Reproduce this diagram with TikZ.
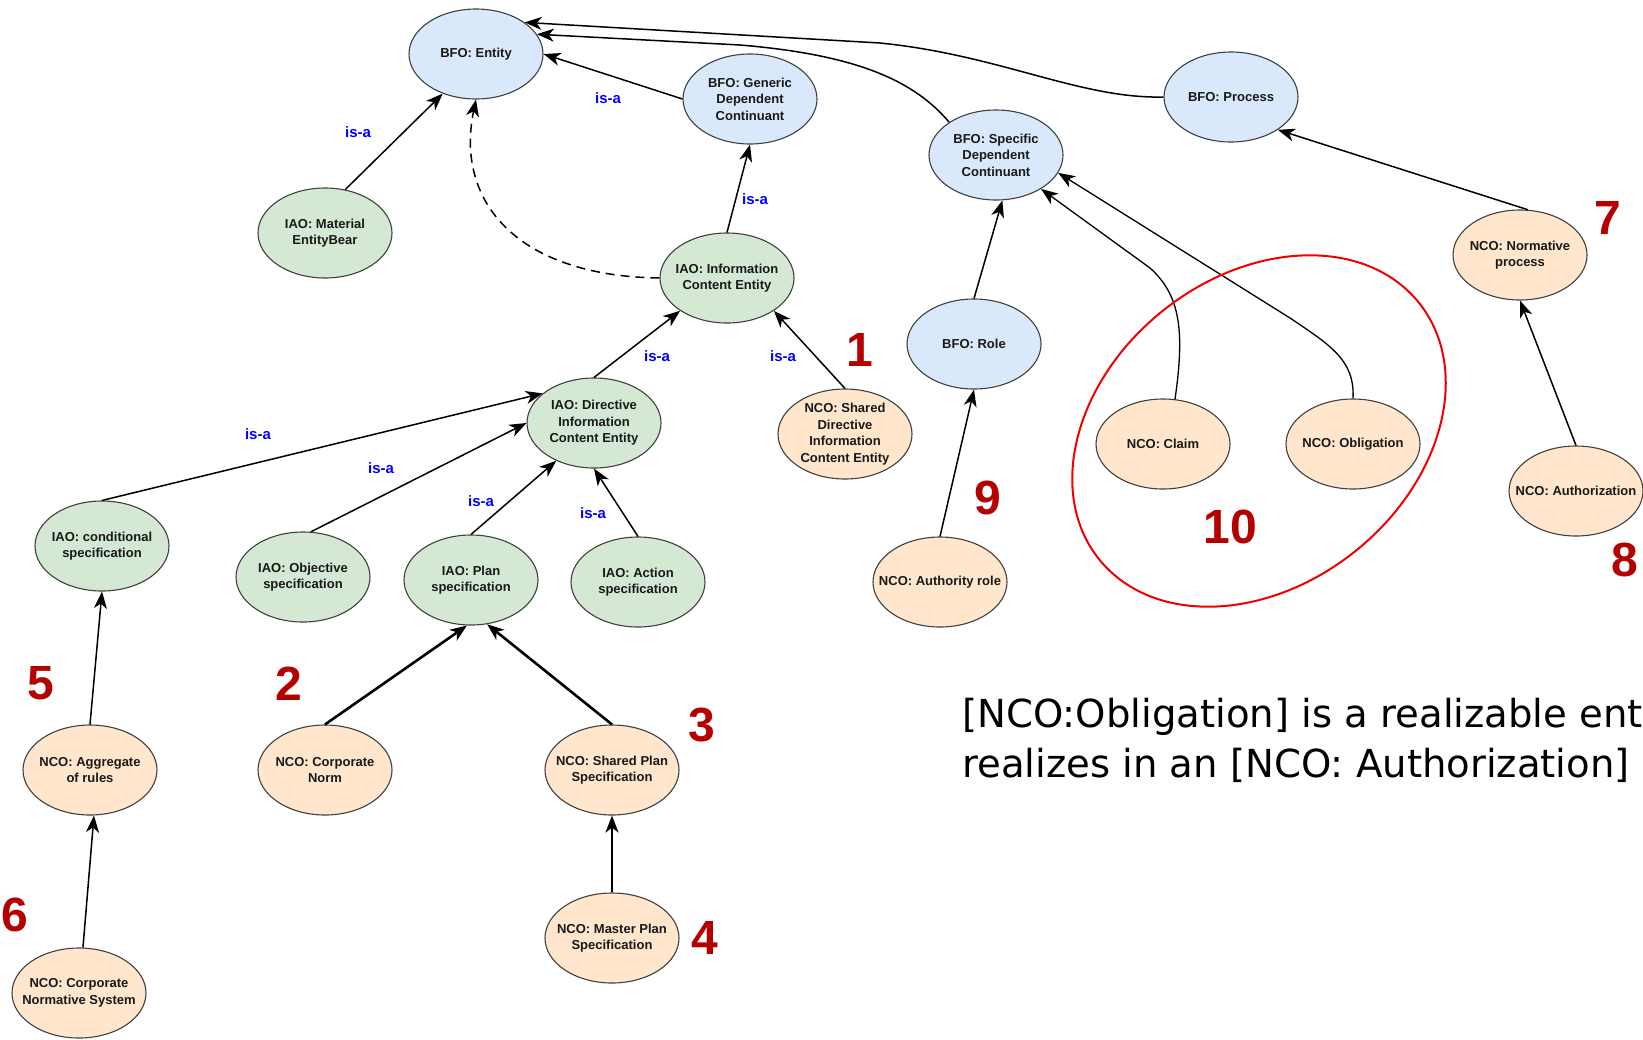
\documentclass[tikz,border=0pt]{standalone}
\usepackage{fontspec}
\setmainfont{Liberation Sans}
\newfontfamily\notefont{DejaVu Sans}
\usetikzlibrary{shapes.geometric,arrows.meta}

\definecolor{bfoblue}{HTML}{DAE8FC}
\definecolor{iaogreen}{HTML}{D5E8D4}
\definecolor{ncoorange}{HTML}{FFE6CC}
\definecolor{isablue}{HTML}{0000FF}
\definecolor{numred}{HTML}{B40000}
\definecolor{ringred}{HTML}{F00000}

\begin{document}
\begin{tikzpicture}[
  x=1pt, y=-1pt,
  every node/.style={font=\fontsize{13}{16.5}\selectfont\bfseries, text=black!90},
  cls/.style={ellipse, draw=black!75, line width=1.1pt, minimum width=134pt,
    minimum height=90pt, inner xsep=-16pt, inner ysep=-2pt, align=center},
  bfo/.style={cls, fill=bfoblue},
  iao/.style={cls, fill=iaogreen},
  nco/.style={cls, fill=ncoorange},
  isa/.style={draw, line width=1.5pt, -{Stealth[length=17pt,width=13pt,inset=5pt]}},
  thickisa/.style={isa, line width=2.6pt},
  isalabel/.style={text=isablue, font=\fontsize{15}{15}\selectfont\bfseries},
  num/.style={text=numred, font=\fontsize{48}{48}\selectfont\bfseries},
  notetext/.style={anchor=base west, inner sep=0pt, text=black, font=\notefont\fontsize{38.6}{46}\selectfont}
]
\useasboundingbox (0,0) rectangle (1643,1039);
\clip (0,0) rectangle (1643,1039);

% BFO classes
\node[bfo] (entity)  at (476,54)  {BFO: Entity};
\node[bfo] (generic) at (750,99)  {BFO: Generic\\Dependent\\Continuant};
\node[bfo] (process) at (1231,97) {BFO: Process};
\node[bfo] (sdc)     at (996,155) {BFO: Specific\\Dependent\\Continuant};
\node[bfo] (role)    at (974,344) {BFO: Role};

% IAO classes
\node[iao] (material) at (325,233) {IAO: Material\\EntityBear};
\node[iao] (ice)      at (727,278) {IAO: Information\\Content Entity};
\node[iao] (dice)     at (594,423) {IAO: Directive\\Information\\Content Entity};
\node[iao] (cond)     at (102,546) {IAO: conditional\\specification};
\node[iao] (obj)      at (303,577) {IAO: Objective\\specification};
\node[iao] (plan)     at (471,580) {IAO: Plan\\specification};
\node[iao] (action)   at (638,582) {IAO: Action\\specification};

% NCO classes
\node[nco] (sdice)    at (845,434)  {NCO: Shared\\Directive\\Information\\Content Entity};
\node[nco] (normproc) at (1520,255) {NCO: Normative\\process};
\node[nco] (claim)    at (1163,444) {NCO: Claim};
\node[nco] (oblig)    at (1353,444) {NCO: Obligation};
\node[nco] (authz)    at (1576,491) {NCO: Authorization};
\node[nco] (authrole) at (940,582)  {NCO: Authority role};
\node[nco] (aggr)     at (90,770)   {NCO: Aggregate\\of rules};
\node[nco] (corpnorm) at (325,770)  {NCO: Corporate\\Norm};
\node[nco] (splan)    at (612,770)  {NCO: Shared Plan\\Specification};
\node[nco] (mplan)    at (612,938)  {NCO: Master Plan\\Specification};
\node[nco] (corpsys)  at (79,993)   {NCO: Corporate\\Normative System};

% is-a links
\draw[isa] (material.65) -- (entity.230);
\draw[isa] (generic.west) -- (entity.east);
\draw[isa] (ice.north) -- (generic.south);
\draw[isa, dash pattern=on 9pt off 6pt] (ice.west) .. controls (515,276) and (455,200) .. (entity.south);
\draw[isa] (process.west) .. controls (1080,99) and (1000,55) .. (880,43) -- (entity.33);
\draw[isa] (sdc.145) .. controls (915,82) and (860,55) .. (740,45) -- (entity.18);
\draw[isa] (dice.north) -- (ice.215);
\draw[isa] (sdice.north) -- (ice.-35);
\draw[isa] (cond.north) -- (dice.150);
\draw[isa] (obj.80) -- (dice.west);
\draw[isa] (plan.north) -- (dice.225);
\draw[isa] (action.north) -- (dice.south);
\draw[isa] (aggr.north) -- (cond.south);
\draw[isa] (corpsys.85) -- (aggr.-85);
\draw[thickisa] (corpnorm.north) -- (plan.-95);
\draw[thickisa] (splan.north) -- (plan.-70);
\draw[thickisa] (mplan.north) -- (splan.south);
\draw[isa] (role.north) -- (sdc.-82);
\draw[isa] (authrole.north) -- (role.south);
\draw[isa, line width=1.3pt] (claim.75) .. controls (1185,330) and (1180,295) .. (1150,268) -- (sdc.-37);
\draw[isa, line width=1.3pt] (oblig.north) .. controls (1355,360) and (1330,345) .. (1290,318) -- (sdc.-16);
\draw[isa] (normproc.80) -- (process.-35);
\draw[isa] (authz.north) -- (normproc.south);

% edge labels
\node[isalabel] (l1) at (358,132) {is-a};
\node[isalabel] (l2) at (608,98)  {is-a};
\node[isalabel] (l3) at (755,199) {is-a};
\node[isalabel] (l4) at (657,356) {is-a};
\node[isalabel] (l5) at (783,356) {is-a};
\node[isalabel] (l6) at (258,434) {is-a};
\node[isalabel] (l7) at (381,468) {is-a};
\node[isalabel] (l8) at (481,501) {is-a};
\node[isalabel] (l9) at (593,513) {is-a};

% red ring round claim and obligation
\draw[ringred, line width=2pt, rotate around={38.7:(1259,431)}] (1259,431) ellipse [x radius=205, y radius=154];

% numbers
\node[num] (n1)  at (860,350)  {1};
\node[num] (n2)  at (289,684)  {2};
\node[num] (n3)  at (702,725)  {3};
\node[num] (n4)  at (705,938)  {4};
\node[num] (n5)  at (41,683)   {5};
\node[num] (n6)  at (15,915)   {6};
\node[num] (n7)  at (1608,218) {7};
\node[num] (n8)  at (1625,560) {8};
\node[num] (n9)  at (988,498)  {9};
\node[num] (n10) at (1230,527) {10};

% note
\node[notetext] (note1) at (962,727) {[NCO:Obligation] is a realizable ent};
\node[notetext] (note2) at (962,777) {realizes in an [NCO: Authorization]};

\end{tikzpicture}
\end{document}
